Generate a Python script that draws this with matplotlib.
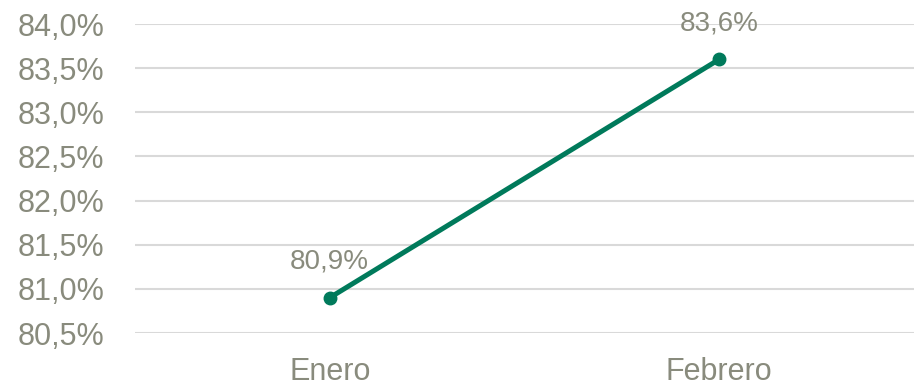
import matplotlib.pyplot as plt
from matplotlib.ticker import FuncFormatter

meses = ['Enero', 'Febrero']
valores = [80.9, 83.6]
ticks_y = [80.5, 81.0, 81.5, 82.0, 82.5, 83.0, 83.5, 84.0]

verde = '#007A5B'
gris_texto = '#898B7D'
gris_rejilla = '#D9D9D9'

plt.rcParams['font.family'] = ['Liberation Sans', 'DejaVu Sans']

fig = plt.figure(figsize=(9.14, 3.86), dpi=100)
ax = fig.add_axes([0.1477, 0.1373, 0.8523, 0.8005])

x = list(range(len(meses)))
ax.plot(x, valores, color=verde, linewidth=3.6, marker='o', markersize=9,
        solid_capstyle='round', zorder=3)

# etiquetas de valor encima de cada punto
for i, v in zip(x, valores):
    ax.annotate(f'{v:.1f}%'.replace('.', ','), (i, v), xytext=(0, 26),
                textcoords='offset points', ha='center', va='center',
                fontsize=20, color=gris_texto)

ax.set_xlim(-0.5, len(meses) - 0.5)
ax.set_ylim(ticks_y[0], ticks_y[-1])
ax.set_xticks(x)
ax.set_xticklabels(meses)
ax.set_yticks(ticks_y)
ax.yaxis.set_major_formatter(FuncFormatter(lambda v, p: f'{v:.1f}%'.replace('.', ',')))

ax.grid(axis='y', color=gris_rejilla, linewidth=1.5)
ax.set_axisbelow(True)
for s in ax.spines.values():
    s.set_visible(False)
ax.tick_params(axis='both', length=0, labelsize=22, colors=gris_texto)
ax.tick_params(axis='y', pad=22)
ax.tick_params(axis='x', pad=17)

fig.savefig('out.png', dpi=100)
plt.close(fig)
